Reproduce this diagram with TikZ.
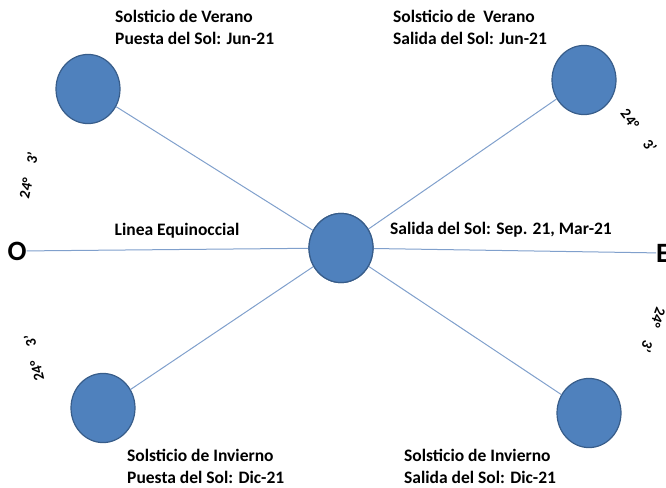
\documentclass[tikz,border=0pt]{standalone}
\usepackage{fontspec}
\setmainfont{Carlito}
\usepackage{tikz}

\begin{document}
\begin{tikzpicture}[x=1pt,y=-1pt,
  sun/.style={draw={rgb,255:red,56;green,93;blue,138}, line width=1.2pt, fill={rgb,255:red,79;green,129;blue,189}, ellipse-ish},
  ellipse-ish/.style={circle, minimum size=64pt, inner sep=0pt, yscale=1.08},
  ray/.style={draw={rgb,255:red,128;green,160;blue,204}, line width=1pt},
  lbl/.style={font=\bfseries\fontsize{17.5}{22}\selectfont, align=left, anchor=north west, inner sep=0pt},
  deg/.style={font=\bfseries\fontsize{15}{17}\selectfont, inner sep=0pt},
  card/.style={font=\bfseries\fontsize{28}{30}\selectfont, inner sep=0pt}]
\useasboundingbox (0,0) rectangle (666,487);

% soles
\node[sun] (c) at (341,248) {};
\node[sun] (nw) at (88,89) {};
\node[sun] (ne) at (584,80) {};
\node[sun] (sw) at (103,408) {};
\node[sun] (se) at (589,413) {};

% puntos cardinales
\node[card] (o) at (17,251) {O};
\node[card, anchor=west] (e) at (656,253) {E};

\draw[ray] (o) -- (c) -- (e);
\draw[ray] (c) -- (nw);
\draw[ray] (c) -- (ne);
\draw[ray] (c) -- (sw);
\draw[ray] (c) -- (se);
\node[sun] at (c) {};

% textos
\node[lbl] (t-nw) at (115,10) {Solsticio de Verano\\Puesta del Sol: Jun-21};
\node[lbl] (t-ne) at (393,10) {Solsticio de\ \ Verano\\Salida del Sol: Jun-21};
\node[lbl] (t-sw) at (127,449) {Solsticio de Invierno\\Puesta del Sol: Dic-21};
\node[lbl] (t-se) at (404,449) {Solsticio de Invierno\\Salida del Sol: Dic-21};
\node[lbl, anchor=center] (t-w) at (177,231) {Linea Equinoccial};
\node[lbl, anchor=west] (t-e) at (390,230) {Salida del Sol: Sep. 21, Mar-21};

% angulos
\node[deg, rotate=78] (g-nw) at (26,188) {24°};
\node[deg, rotate=78] (m-nw) at (32,158) {3'};
\node[deg, rotate=103] (g-sw) at (37,371) {24°};
\node[deg, rotate=103] (m-sw) at (30,341) {3'};
\node[deg, rotate=-53] (g-ne) at (630,119) {24°};
\node[deg, rotate=-53] (m-ne) at (650,146) {3'};
\node[deg, rotate=-110] (g-se) at (658,318) {24°};
\node[deg, rotate=-110] (m-se) at (647,347) {3'};
\end{tikzpicture}
\end{document}
